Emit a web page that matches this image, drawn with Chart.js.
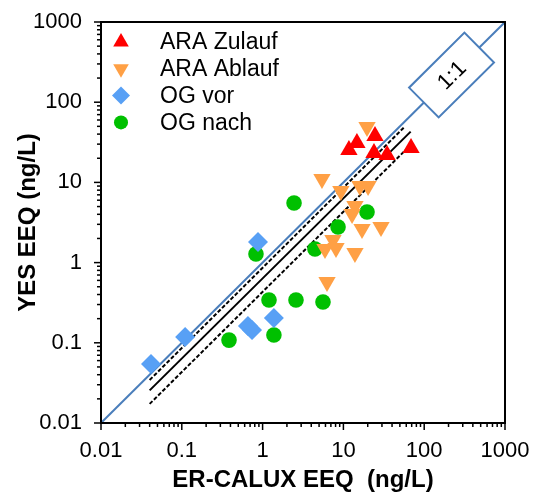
<!DOCTYPE html>
<html>
<head>
<meta charset="utf-8">
<script src="https://cdn.jsdelivr.net/npm/chart.js@4/dist/chart.umd.min.js"></script>
<style>
  html, body { margin: 0; padding: 0; background: #fff; }
  #wrap { width: 539px; height: 495px; }
</style>
</head>
<body>
<div id="wrap"><canvas id="chart"></canvas></div>
<script>
const seriesNames = ["ARA Zulauf", "ARA Ablauf", "OG vor", "OG nach"];

const zulaufX = [11.7, 14.7, 24.6, 23.9, 34.7, 68.7];
const zulaufY = [25.4, 31.0, 37.9, 23.3, 22.0, 26.8];

const ablaufX = [19.6, 5.43, 9.3, 16.0, 20.2, 13.9, 12.8, 17.0, 29.2, 7.43, 5.92, 8.1, 13.9, 6.27];
const ablaufY = [49.1, 11.0, 7.8, 9.0, 9.0, 5.08, 4.04, 2.62, 2.78, 1.91, 1.48, 1.52, 1.32, 0.573];

const ogVorX = [0.0416, 0.110, 0.877, 0.659, 0.74, 1.38];
const ogVorY = [0.0545, 0.118, 1.81, 0.162, 0.144, 0.204];

const ogNachX = [2.45, 19.6, 8.58, 4.45, 0.828, 1.20, 2.59, 5.59, 1.38, 0.384];
const ogNachY = [5.54, 4.27, 2.78, 1.48, 1.28, 0.342, 0.342, 0.323, 0.125, 0.108];

// 1:1 line and fit lines (solid = fit, dashed = bounds)
const oneToOneX = [0.01, 1000];
const oneToOneY = [0.01, 1000];
const fitX = [0.04, 68];
const fitY = [0.0255, 43];
const upperX = [0.04, 58];
const upperY = [0.0344, 50];
const lowerX = [0.04, 72];
const lowerY = [0.0173, 31];

const decades = [0.01, 0.1, 1, 10, 100, 1000];
const tickLabels = ["0.01", "0.1", "1", "10", "100", "1000"];
const boxLabel = "1:1";

const FONT = "Arial, 'Liberation Sans', sans-serif";
Chart.defaults.font.family = FONT;
Chart.defaults.color = "#000";

const pts = (xs, ys) => xs.map((x, i) => ({ x: x, y: ys[i] }));

// all log ticks 1..9 x 10^n
const tickValues = [];
decades.slice(0, -1).forEach(d => {
  for (let k = 1; k < 10; k++) tickValues.push(k * d);
});
tickValues.push(decades[decades.length - 1]);

const isMajor = v => decades.some(d => Math.abs(d - v) < d * 1e-6);

const pointSets = [
  { label: seriesNames[0], data: pts(zulaufX, zulaufY), pointStyle: "triangle", rotation: 0, pointRadius: 10, backgroundColor: "#ff0000" },
  { label: seriesNames[1], data: pts(ablaufX, ablaufY), pointStyle: "triangle", rotation: 180, pointRadius: 10, backgroundColor: "#ffa045" },
  { label: seriesNames[2], data: pts(ogVorX, ogVorY), pointStyle: "rectRot", rotation: 0, pointRadius: 10, backgroundColor: "#58a0f5" },
  { label: seriesNames[3], data: pts(ogNachX, ogNachY), pointStyle: "circle", rotation: 0, pointRadius: 7.8, backgroundColor: "#00c000" },
].map(ds => Object.assign(ds, { borderWidth: 0, pointHoverRadius: ds.pointRadius, order: 1 }));

const lineSets = [
  { label: "1:1", data: pts(oneToOneX, oneToOneY), borderColor: "#4a7ebb", borderWidth: 2 },
  { label: "fit", data: pts(fitX, fitY), borderColor: "#000", borderWidth: 2 },
  { label: "upper", data: pts(upperX, upperY), borderColor: "#000", borderWidth: 2, borderDash: [4, 2] },
  { label: "lower", data: pts(lowerX, lowerY), borderColor: "#000", borderWidth: 2, borderDash: [4, 2] },
].map(ds => Object.assign(ds, { showLine: true, pointRadius: 0, pointHoverRadius: 0, order: 2 }));

const frameAndTicks = {
  id: "frameAndTicks",
  afterDatasetsDraw(chart) {
    const { ctx, chartArea: a, scales: { x, y } } = chart;
    ctx.save();

    // 1:1 label box on the line
    const cx = x.getPixelForValue(218), cy = y.getPixelForValue(218);
    const ang = Math.atan2(y.getPixelForValue(1000) - y.getPixelForValue(0.01),
                           x.getPixelForValue(1000) - x.getPixelForValue(0.01));
    ctx.translate(cx, cy);
    ctx.rotate(ang);
    ctx.fillStyle = "#fff";
    ctx.fillRect(-39, -21, 78, 42);
    ctx.strokeStyle = "#4a7ebb";
    ctx.lineWidth = 2;
    ctx.strokeRect(-39, -21, 78, 42);
    ctx.fillStyle = "#000";
    ctx.font = "22px " + FONT;
    ctx.textAlign = "center";
    ctx.textBaseline = "middle";
    ctx.fillText(boxLabel, 0, 1);
    ctx.restore();
    ctx.save();

    // frame
    ctx.strokeStyle = "#000";
    ctx.lineWidth = 2;
    ctx.strokeRect(a.left, a.top, a.right - a.left, a.bottom - a.top);

    // tick marks
    ctx.lineWidth = 1.5;
    tickValues.forEach(v => {
      const len = isMajor(v) ? 7 : 4;
      const px = x.getPixelForValue(v);
      ctx.beginPath();
      ctx.moveTo(px, a.bottom);
      ctx.lineTo(px, a.bottom + len);
      ctx.stroke();
      const py = y.getPixelForValue(v);
      ctx.beginPath();
      ctx.moveTo(a.left, py);
      ctx.lineTo(a.left - len, py);
      ctx.stroke();
    });

    // legend inside the plot
    ctx.font = "23px " + FONT;
    ctx.textAlign = "left";
    ctx.textBaseline = "middle";
    pointSets.forEach((ds, i) => {
      const ly = a.top + 20 + i * 26.8;
      ctx.fillStyle = ds.backgroundColor;
      Chart.helpers.drawPoint(ctx, {
        pointStyle: ds.pointStyle, rotation: ds.rotation,
        radius: ds.pointRadius * 0.9, borderWidth: 0
      }, a.left + 20, ly);
      ctx.fillStyle = "#000";
      ctx.fillText(ds.label, a.left + 59, ly + 1);
    });
    ctx.restore();
  }
};

function logAxis(pos, title) {
  return {
    type: "logarithmic",
    position: pos,
    min: 0.01,
    max: 1000,
    afterBuildTicks: s => { s.ticks = tickValues.map(v => ({ value: v })); },
    afterFit: s => {
      if (pos === "left") { s.width = 101; s.paddingTop = 0; s.paddingBottom = 0; }
      else { s.height = 72; s.paddingLeft = 0; s.paddingRight = 0; }
    },
    ticks: {
      autoSkip: false,
      maxRotation: 0,
      minRotation: 0,
      padding: pos === "left" ? 12 : 8,
      color: "#000",
      font: { size: 22 },
      callback: v => {
        const i = decades.findIndex(d => Math.abs(d - v) < d * 1e-6);
        return i >= 0 ? tickLabels[i] : "";
      }
    },
    grid: { display: true, drawOnChartArea: false, drawTicks: true, tickLength: 7, color: "rgba(0,0,0,0)" },
    border: { display: false },
    title: {
      display: true,
      text: title,
      color: "#000",
      font: { size: 24, weight: "bold" },
      padding: pos === "left" ? { top: 14, bottom: 0 } : { top: 0, bottom: 0 }
    }
  };
}

new Chart(document.getElementById("chart").getContext("2d"), {
  type: "scatter",
  data: { datasets: pointSets.concat(lineSets) },
  options: {
    responsive: true,
    maintainAspectRatio: false,
    animation: false,
    layout: { padding: { top: 22, right: 34, left: 0, bottom: 0 } },
    plugins: { legend: { display: false }, tooltip: { enabled: false } },
    scales: {
      x: logAxis("bottom", "ER-CALUX EEQ  (ng/L)"),
      y: logAxis("left", "YES EEQ (ng/L)")
    }
  },
  plugins: [frameAndTicks]
});
</script>
</body>
</html>
